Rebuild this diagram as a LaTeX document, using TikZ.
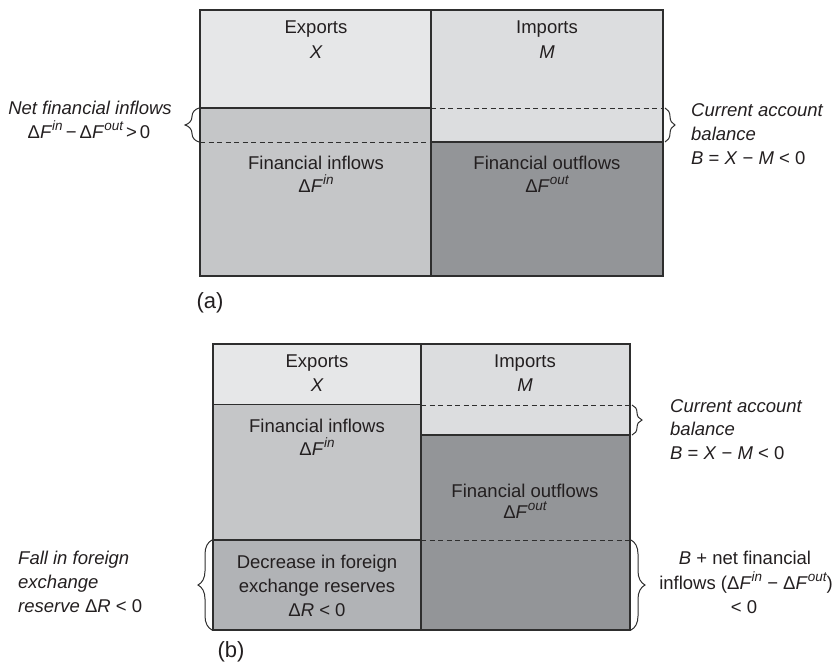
\documentclass[tikz,border=0pt]{standalone}
\usepackage{fontspec}
\setmainfont{Liberation Sans}
\usetikzlibrary{decorations.pathreplacing}
\definecolor{txtc}{HTML}{231F20}
\definecolor{linec}{HTML}{2E2E2E}
\definecolor{cexp}{HTML}{E6E7E8}
\definecolor{cimp}{HTML}{DCDDDF}
\definecolor{cfin}{HTML}{C5C6C8}
\definecolor{cfout}{HTML}{939598}
\definecolor{cres}{HTML}{B1B3B6}
\newcommand{\sps}[1]{\raisebox{0.42em}{\fontsize{13.5}{14}\selectfont\itshape #1}}
\begin{document}
\begin{tikzpicture}[x=1pt,y=-1pt,
  font=\fontsize{18.5}{22}\selectfont,
  txt/.style={anchor=base,inner sep=0pt,text=txtc},
  ltxt/.style={anchor=base west,inner sep=0pt,text=txtc},
  box/.style={draw=linec,line width=1.5pt},
  sep/.style={draw=linec,line width=1.5pt},
  dsep/.style={draw=linec,line width=0.9pt,dash pattern=on 5pt off 3.5pt},
  brc/.style={draw=linec,line width=1pt,decorate,decoration={brace,amplitude=#1}},
  plabel/.style={anchor=base,inner sep=0pt,text=txtc,font=\fontsize{22}{24}\selectfont}]
\useasboundingbox (0,0) rectangle (836,665);
% ---------------- panel (a) ----------------
\fill[cexp] (200,10) rectangle (431,108);
\fill[cimp] (431,10) rectangle (663,142);
\fill[cfin] (200,108) rectangle (431,276);
\fill[cfout] (431,142) rectangle (663,276);
\draw[dsep] (200,142) -- (431,142);
\draw[dsep] (431,108) -- (663,108);
\draw[sep] (200,108) -- (431,108);
\draw[sep] (431,142) -- (663,142);
\draw[sep] (431,10) -- (431,276);
\draw[box] (200,10) rectangle (663,276);
\node[txt] (aexp1) at (316,33) {Exports};
\node[txt] (aexp2) at (316,58) {\itshape X};
\node[txt] (aimp1) at (547,33) {Imports};
\node[txt] (aimp2) at (547,58) {\itshape M};
\node[txt] (afin1) at (316,169) {Financial inflows};
\node[txt] (afin2) at (316,192) {Δ\textit{F}\sps{in}};
\node[txt] (afout1) at (547,169) {Financial outflows};
\node[txt] (afout2) at (547,192) {Δ\textit{F}\sps{out}};
\coordinate (alb1) at (199,142);
\coordinate (alb2) at (199,108);
\draw[brc=14pt] (alb1) -- (alb2);
\coordinate (arb1) at (665,108);
\coordinate (arb2) at (665,142);
\draw[brc=10pt] (arb1) -- (arb2);
\node[txt] (anet1) at (90,114) {\itshape Net financial inflows};
\node[txt] (anet2) at (89,138) {Δ\textit{F}\sps{in}\,−\,Δ\textit{F}\sps{out}\,>\,0};
\node[ltxt] (acur1) at (691,116) {\itshape Current account};
\node[ltxt] (acur2) at (691,140) {\itshape balance};
\node[ltxt] (acur3) at (691,164) {\textit{B} = \textit{X} − \textit{M} < 0};
\node[plabel] (alab) at (210,308) {(a)};
% ---------------- panel (b) ----------------
\fill[cexp] (213,344) rectangle (421,404.5);
\fill[cimp] (421,344) rectangle (630,435);
\fill[cfin] (213,404.5) rectangle (421,540);
\fill[cfout] (421,435) rectangle (630,630);
\fill[cres] (213,540) rectangle (421,630);
\draw[dsep] (421,405) -- (630,405);
\draw[dsep] (421,540) -- (630,540);
\draw[sep] (213,404.5) -- (421,404.5);
\draw[sep] (421,435) -- (630,435);
\draw[sep] (213,540) -- (421,540);
\draw[sep] (421,344) -- (421,630);
\draw[box] (213,344) rectangle (630,630);
\node[txt] (bexp1) at (317,367) {Exports};
\node[txt] (bexp2) at (317,391) {\itshape X};
\node[txt] (bimp1) at (525,367) {Imports};
\node[txt] (bimp2) at (525,391) {\itshape M};
\node[txt] (bfin1) at (317,432) {Financial inflows};
\node[txt] (bfin2) at (317,455) {Δ\textit{F}\sps{in}};
\node[txt] (bfout1) at (525,497) {Financial outflows};
\node[txt] (bfout2) at (525,518) {Δ\textit{F}\sps{out}};
\node[txt] (bres1) at (317,568) {Decrease in foreign};
\node[txt] (bres2) at (317,592) {exchange reserves};
\node[txt] (bres3) at (317,616) {Δ\textit{R} < 0};
\coordinate (bcb1) at (632,405);
\coordinate (bcb2) at (632,435);
\draw[brc=10pt] (bcb1) -- (bcb2);
\coordinate (blb1) at (212,630);
\coordinate (blb2) at (212,540);
\draw[brc=14pt] (blb1) -- (blb2);
\coordinate (brb1) at (631,540);
\coordinate (brb2) at (631,630);
\draw[brc=14pt] (brb1) -- (brb2);
\node[ltxt] (bcur1) at (670,412) {\itshape Current account};
\node[ltxt] (bcur2) at (670,435) {\itshape balance};
\node[ltxt] (bcur3) at (670,459) {\textit{B} = \textit{X} − \textit{M} < 0};
\node[ltxt] (bfall1) at (18,564) {\itshape Fall in foreign};
\node[ltxt] (bfall2) at (18,588) {\itshape exchange};
\node[ltxt] (bfall3) at (18,612) {\textit{reserve} Δ\textit{R} < 0};
\node[txt] (bnet1) at (745,564) {\textit{B} + net financial};
\node[txt] (bnet2) at (746,589) {inflows (Δ\textit{F}\sps{in} − Δ\textit{F}\sps{out})};
\node[txt] (bnet3) at (744,613) {< 0};
\node[plabel] (blab) at (231,657) {(b)};
\end{tikzpicture}
\end{document}
